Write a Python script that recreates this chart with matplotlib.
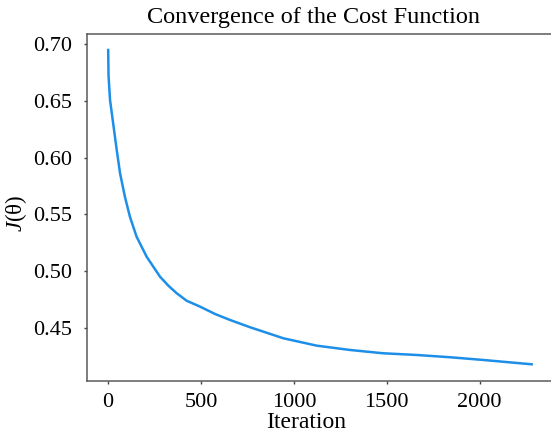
import matplotlib
matplotlib.use("Agg")
import matplotlib.pyplot as plt

# values
iterations = [0, 2, 10, 27, 46, 64, 90, 117, 153, 207, 243, 279, 324, 369, 423,
              494, 575, 656, 764, 943, 1123, 1302, 1481, 1661, 1841, 2020, 2280]
cost = [0.6947, 0.672, 0.6507, 0.630, 0.6067, 0.5862, 0.5656, 0.548, 0.5304,
        0.5128, 0.504, 0.4952, 0.4873, 0.4806, 0.474, 0.4689, 0.4624, 0.4571,
        0.4507, 0.441, 0.4345, 0.4307, 0.4278, 0.4263, 0.4243, 0.4219, 0.4181]

x_ticks = [0, 500, 1000, 1500, 2000]
y_ticks = [0.45, 0.50, 0.55, 0.60, 0.65, 0.70]

plt.rcParams['font.family'] = ['Liberation Serif', 'DejaVu Serif']
plt.rcParams['mathtext.fontset'] = 'custom'
plt.rcParams['mathtext.rm'] = 'Liberation Serif'
plt.rcParams['mathtext.it'] = 'Liberation Serif:italic'

fig = plt.figure(figsize=(5.51, 4.32), dpi=100)
ax = fig.add_axes([87 / 551, 1 - 381 / 432, (553 - 87) / 551, (381 - 34.3) / 432])

ax.plot(iterations, cost, color='#1E8FE8', linewidth=1.8)

ax.set_xlim(-114, 2395)
ax.set_ylim(0.4034, 0.7085)
ax.set_xticks(x_ticks)
ax.set_yticks(y_ticks)
ax.set_yticklabels([f'{v:.2f}' for v in y_ticks])

for side in ['left', 'bottom', 'top']:
    ax.spines[side].set_color('#5a5a5a')
    ax.spines[side].set_linewidth(1.1)
ax.spines['right'].set_visible(False)

ax.tick_params(axis='both', labelsize=16, length=2.5, width=1, color='#444444')
ax.tick_params(axis='y', pad=8)
ax.tick_params(axis='x', pad=6)

ax.set_title('Convergence of the Cost Function', fontsize=17.5, pad=8, x=0.487)
ax.set_xlabel('Iteration', fontsize=17)
ax.xaxis.set_label_coords(0.47, -0.09, transform=ax.transAxes)
ax.xaxis.label.set_va('top')
ax.set_ylabel(r'$\mathit{J}$(θ)', fontsize=16.5)
ax.yaxis.set_label_coords(-0.125, 0.485)

fig.savefig('out.png', dpi=100)
